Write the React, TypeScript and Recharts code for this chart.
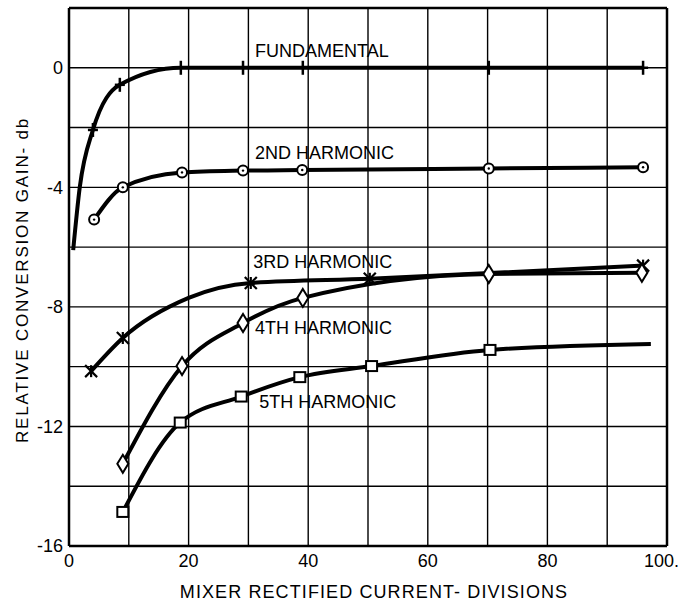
import { CartesianGrid, Line, LineChart, ReferenceDot, ReferenceLine, XAxis, YAxis } from "recharts";

// grid every 10 divisions / 2 db, labels every 20 / 4
const X_TICKS = [0, 10, 20, 30, 40, 50, 60, 70, 80, 90, 100];
const Y_TICKS = [-16, -14, -12, -10, -8, -6, -4, -2, 0, 2];

const FUND_X = [0.7, 1.8, 4.0, 8.5, 18.7, 29.1, 39.1, 70.2, 96.0];
const FUND_Y = [-6.1, -4.0, -2.08, -0.57, 0, 0, 0, 0, 0];
const FUND_MARK = [false, false, true, true, true, true, true, true, true];

const H2_X = [4.2, 9.0, 18.9, 29.1, 39.0, 70.2, 96.0];
const H2_Y = [-5.08, -4.0, -3.5, -3.44, -3.42, -3.37, -3.33];
const H2_MARK = [true, true, true, true, true, true, true];

const H3_X = [3.7, 9.0, 20.0, 30.4, 50.3, 96.0];
const H3_Y = [-10.15, -9.04, -7.7, -7.2, -7.06, -6.62];
const H3_MARK = [true, true, false, true, true, true];

const H4_X = [9.0, 18.9, 29.1, 39.1, 70.2, 95.8];
const H4_Y = [-13.25, -9.98, -8.54, -7.7, -6.9, -6.86];
const H4_MARK = [true, true, true, true, true, true];

const H5_X = [9.0, 18.6, 28.8, 38.6, 50.6, 70.4, 97.3];
const H5_Y = [-14.86, -11.87, -11.0, -10.35, -9.98, -9.44, -9.24];
const H5_MARK = [true, true, true, true, true, true, false];

const LABELS = ["FUNDAMENTAL", "2ND HARMONIC", "3RD HARMONIC", "4TH HARMONIC", "5TH HARMONIC"];
const LABEL_X = [31.1, 31.1, 30.8, 31.1, 31.8];
const LABEL_Y = [0.37, -3.06, -6.69, -8.91, -11.39];

const FONT = "'Liberation Sans', Arial, Helvetica, sans-serif";

const zip = (xs: number[], ys: number[], marks: boolean[]) =>
  xs.map((x, i) => ({ x, y: ys[i], mark: marks[i] }));

type Shape = "plus" | "circle" | "star" | "diamond" | "square";

const makeDot = (shape: Shape) => (props: any) => {
  const { cx, cy, index, payload } = props;
  if (cx == null || cy == null || !payload?.mark) return <g key={index} />;
  const k = `${shape}-${index}`;
  switch (shape) {
    case "plus":
      return (
        <g key={k} stroke="#000" strokeWidth={2.5}>
          <line x1={cx} y1={cy - 7} x2={cx} y2={cy + 7} />
          <line x1={cx - 5} y1={cy} x2={cx + 5} y2={cy} />
        </g>
      );
    case "circle":
      return (
        <g key={k}>
          <circle cx={cx} cy={cy} r={5} fill="#fff" stroke="#000" strokeWidth={2} />
          <circle cx={cx} cy={cy} r={1.2} fill="#000" />
        </g>
      );
    case "star":
      return (
        <g key={k} stroke="#000" strokeWidth={2.2}>
          <line x1={cx - 6} y1={cy - 6} x2={cx + 6} y2={cy + 6} />
          <line x1={cx - 6} y1={cy + 6} x2={cx + 6} y2={cy - 6} />
          <line x1={cx} y1={cy - 6} x2={cx} y2={cy + 6} />
        </g>
      );
    case "diamond":
      return (
        <polygon
          key={k}
          points={`${cx},${cy - 9} ${cx + 5.5},${cy} ${cx},${cy + 9} ${cx - 5.5},${cy}`}
          fill="#fff"
          stroke="#000"
          strokeWidth={2}
        />
      );
    default:
      return <rect key={k} x={cx - 5.5} y={cy - 5} width={11} height={10} fill="#fff" stroke="#000" strokeWidth={2} />;
  }
};

// x tick: labels every 20, the last one ("100.") kept inside the frame
const XTick = (props: any) => {
  const { x, y, payload } = props;
  const v = payload.value as number;
  if (v % 20 !== 0) return <g />;
  const last = v === 100;
  return (
    <text x={last ? x - 23 : x} y={y} dy="0.71em" textAnchor={last ? "start" : "middle"} fontSize={18} fontFamily={FONT} fill="#000">
      {last ? "100." : String(v)}
    </text>
  );
};

const SERIES: { name: string; data: { x: number; y: number; mark: boolean }[]; shape: Shape }[] = [
  { name: "Fundamental", data: zip(FUND_X, FUND_Y, FUND_MARK), shape: "plus" },
  { name: "2nd harmonic", data: zip(H2_X, H2_Y, H2_MARK), shape: "circle" },
  { name: "3rd harmonic", data: zip(H3_X, H3_Y, H3_MARK), shape: "star" },
  { name: "4th harmonic", data: zip(H4_X, H4_Y, H4_MARK), shape: "diamond" },
  { name: "5th harmonic", data: zip(H5_X, H5_Y, H5_MARK), shape: "square" },
];

export default function App() {
  return (
    <div style={{ position: "absolute", left: 0, top: 0, background: "#fff", fontFamily: FONT }}>
      <LineChart width={682} height={606} margin={{ top: 8, right: 15, bottom: 0, left: 9 }}>
        <CartesianGrid stroke="#000" strokeWidth={1.4} />
        <XAxis
          type="number"
          dataKey="x"
          domain={[0, 100]}
          ticks={X_TICKS}
          interval={0}
          height={60}
          tickLine={false}
          axisLine={{ stroke: "#000", strokeWidth: 2.5 }}
          tick={<XTick />}
          label={{
            content: () => (
              <text x={374} y={598} textAnchor="middle" fontSize={18} fontFamily={FONT} letterSpacing={1.1} fill="#000">
                MIXER RECTIFIED CURRENT- DIVISIONS
              </text>
            ),
          }}
        />
        <YAxis
          type="number"
          dataKey="y"
          domain={[-16, 2]}
          ticks={Y_TICKS}
          interval={0}
          width={60}
          tickLine={false}
          tickSize={4}
          axisLine={{ stroke: "#000", strokeWidth: 2.5 }}
          tickFormatter={(v: number) => (v % 4 === 0 ? String(v) : "")}
          tick={{ fill: "#000", fontSize: 18, fontFamily: FONT }}
          label={{
            content: () => (
              <text x={22} y={280} transform="rotate(-90 22 280)" textAnchor="middle" dominantBaseline="central" fontSize={17} fontFamily={FONT} letterSpacing={1.8} fill="#000">
                RELATIVE CONVERSION GAIN- db
              </text>
            ),
          }}
        />
        <ReferenceLine y={2} stroke="#000" strokeWidth={2.5} />
        <ReferenceLine x={100} stroke="#000" strokeWidth={2.5} />
        {SERIES.map((s) => (
          <Line
            key={s.name}
            name={s.name}
            data={s.data}
            dataKey="y"
            type="monotone"
            stroke="#000"
            strokeWidth={4}
            dot={makeDot(s.shape)}
            activeDot={false}
            isAnimationActive={false}
          />
        ))}
        {LABELS.map((t, i) => (
          <ReferenceDot
            key={t}
            x={LABEL_X[i]}
            y={LABEL_Y[i]}
            r={0}
            fill="none"
            stroke="none"
            label={{
              content: (p: any) => (
                <text x={p.viewBox.x} y={p.viewBox.y} fontSize={18} fontFamily={FONT} fill="#000">
                  {t}
                </text>
              ),
            }}
          />
        ))}
      </LineChart>
    </div>
  );
}
